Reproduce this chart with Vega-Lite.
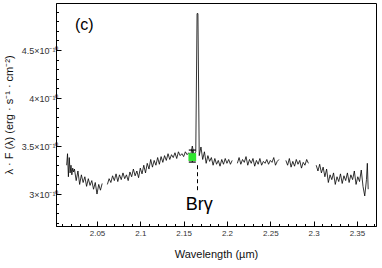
{
  "$schema": "https://vega.github.io/schema/vega-lite/v6.json",
  "width": 320,
  "height": 223,
  "autosize": {"type": "none"},
  "padding": {"left": 56, "top": 3, "right": 6, "bottom": 42},
  "config": {
    "view": {"stroke": "#000", "strokeWidth": 1},
    "font": "Liberation Sans",
    "axis": {"domainColor": "#000", "tickColor": "#000", "labelColor": "#333", "titleColor": "#111", "titleFontWeight": "normal", "grid": false, "labelFont": "Liberation Sans", "titleFont": "Liberation Sans", "labelOverlap": false, "labelBound": false, "labelFlush": false, "tickCount": 200}
  },
  "layer": [
    {
      "data": {"values": [
        {"wl":2.015,"f":3.30,"seg":1},{"wl":2.016,"f":3.42,"seg":1},{"wl":2.017,"f":3.18,"seg":1},{"wl":2.018,"f":3.38,"seg":1},{"wl":2.019,"f":3.22,"seg":1},{"wl":2.020,"f":3.30,"seg":1},{"wl":2.021,"f":3.20,"seg":1},{"wl":2.022,"f":3.27,"seg":1},{"wl":2.023,"f":3.23,"seg":1},{"wl":2.024,"f":3.26,"seg":1},{"wl":2.026,"f":3.14,"seg":1},{"wl":2.028,"f":3.24,"seg":1},{"wl":2.030,"f":3.10,"seg":1},{"wl":2.032,"f":3.20,"seg":1},{"wl":2.034,"f":3.12,"seg":1},{"wl":2.036,"f":3.18,"seg":1},{"wl":2.038,"f":3.08,"seg":1},{"wl":2.040,"f":3.16,"seg":1},{"wl":2.042,"f":3.09,"seg":1},{"wl":2.044,"f":3.14,"seg":1},{"wl":2.046,"f":3.05,"seg":1},{"wl":2.048,"f":3.12,"seg":1},{"wl":2.050,"f":3.00,"seg":1},{"wl":2.052,"f":3.10,"seg":1},{"wl":2.054,"f":3.04,"seg":1},{"wl":2.056,"f":3.11,"seg":1},
        {"wl":2.062,"f":3.10,"seg":2},{"wl":2.064,"f":3.16,"seg":2},{"wl":2.066,"f":3.12,"seg":2},{"wl":2.068,"f":3.19,"seg":2},{"wl":2.070,"f":3.14,"seg":2},{"wl":2.072,"f":3.21,"seg":2},{"wl":2.074,"f":3.13,"seg":2},{"wl":2.076,"f":3.20,"seg":2},{"wl":2.078,"f":3.15,"seg":2},{"wl":2.080,"f":3.22,"seg":2},{"wl":2.082,"f":3.16,"seg":2},{"wl":2.084,"f":3.20,"seg":2},{"wl":2.086,"f":3.14,"seg":2},{"wl":2.088,"f":3.23,"seg":2},{"wl":2.090,"f":3.18,"seg":2},{"wl":2.092,"f":3.26,"seg":2},{"wl":2.094,"f":3.19,"seg":2},{"wl":2.096,"f":3.24,"seg":2},{"wl":2.098,"f":3.17,"seg":2},{"wl":2.100,"f":3.27,"seg":2},{"wl":2.102,"f":3.21,"seg":2},{"wl":2.104,"f":3.30,"seg":2},{"wl":2.106,"f":3.22,"seg":2},{"wl":2.108,"f":3.32,"seg":2},{"wl":2.110,"f":3.26,"seg":2},{"wl":2.112,"f":3.36,"seg":2},{"wl":2.114,"f":3.28,"seg":2},{"wl":2.116,"f":3.35,"seg":2},{"wl":2.118,"f":3.30,"seg":2},{"wl":2.120,"f":3.38,"seg":2},{"wl":2.122,"f":3.31,"seg":2},{"wl":2.124,"f":3.39,"seg":2},{"wl":2.126,"f":3.33,"seg":2},{"wl":2.128,"f":3.40,"seg":2},{"wl":2.130,"f":3.35,"seg":2},{"wl":2.132,"f":3.42,"seg":2},{"wl":2.134,"f":3.36,"seg":2},{"wl":2.136,"f":3.41,"seg":2},{"wl":2.138,"f":3.38,"seg":2},{"wl":2.140,"f":3.43,"seg":2},{"wl":2.142,"f":3.37,"seg":2},{"wl":2.144,"f":3.44,"seg":2},{"wl":2.146,"f":3.40,"seg":2},{"wl":2.148,"f":3.42,"seg":2},{"wl":2.150,"f":3.39,"seg":2},{"wl":2.152,"f":3.44,"seg":2},{"wl":2.154,"f":3.41,"seg":2},{"wl":2.156,"f":3.43,"seg":2},{"wl":2.158,"f":3.40,"seg":2},{"wl":2.160,"f":3.50,"seg":2},{"wl":2.162,"f":3.41,"seg":2},{"wl":2.164,"f":3.44,"seg":2},{"wl":2.1655,"f":4.88,"seg":2},{"wl":2.1665,"f":4.88,"seg":2},{"wl":2.168,"f":3.40,"seg":2},{"wl":2.170,"f":3.49,"seg":2},{"wl":2.172,"f":3.36,"seg":2},{"wl":2.174,"f":3.44,"seg":2},{"wl":2.176,"f":3.32,"seg":2},{"wl":2.178,"f":3.40,"seg":2},{"wl":2.180,"f":3.34,"seg":2},{"wl":2.182,"f":3.38,"seg":2},{"wl":2.184,"f":3.30,"seg":2},{"wl":2.186,"f":3.37,"seg":2},{"wl":2.188,"f":3.31,"seg":2},{"wl":2.190,"f":3.35,"seg":2},{"wl":2.192,"f":3.29,"seg":2},{"wl":2.194,"f":3.36,"seg":2},{"wl":2.196,"f":3.31,"seg":2},{"wl":2.198,"f":3.37,"seg":2},{"wl":2.200,"f":3.32,"seg":2},{"wl":2.202,"f":3.36,"seg":2},{"wl":2.204,"f":3.31,"seg":2},{"wl":2.206,"f":3.35,"seg":2},
        {"wl":2.212,"f":3.32,"seg":3},{"wl":2.214,"f":3.38,"seg":3},{"wl":2.216,"f":3.31,"seg":3},{"wl":2.218,"f":3.36,"seg":3},{"wl":2.220,"f":3.33,"seg":3},{"wl":2.222,"f":3.39,"seg":3},{"wl":2.224,"f":3.30,"seg":3},{"wl":2.226,"f":3.36,"seg":3},{"wl":2.228,"f":3.32,"seg":3},{"wl":2.230,"f":3.37,"seg":3},{"wl":2.232,"f":3.29,"seg":3},{"wl":2.234,"f":3.35,"seg":3},{"wl":2.236,"f":3.31,"seg":3},{"wl":2.238,"f":3.37,"seg":3},{"wl":2.240,"f":3.30,"seg":3},{"wl":2.242,"f":3.34,"seg":3},{"wl":2.244,"f":3.32,"seg":3},{"wl":2.246,"f":3.36,"seg":3},{"wl":2.248,"f":3.31,"seg":3},{"wl":2.250,"f":3.35,"seg":3},{"wl":2.252,"f":3.33,"seg":3},{"wl":2.254,"f":3.38,"seg":3},{"wl":2.256,"f":3.30,"seg":3},{"wl":2.258,"f":3.34,"seg":3},{"wl":2.260,"f":3.36,"seg":3},
        {"wl":2.268,"f":3.35,"seg":4},{"wl":2.270,"f":3.30,"seg":4},{"wl":2.272,"f":3.37,"seg":4},{"wl":2.274,"f":3.28,"seg":4},{"wl":2.276,"f":3.34,"seg":4},{"wl":2.278,"f":3.29,"seg":4},{"wl":2.280,"f":3.36,"seg":4},{"wl":2.282,"f":3.31,"seg":4},{"wl":2.284,"f":3.35,"seg":4},{"wl":2.286,"f":3.27,"seg":4},{"wl":2.288,"f":3.33,"seg":4},{"wl":2.290,"f":3.30,"seg":4},{"wl":2.292,"f":3.36,"seg":4},{"wl":2.294,"f":3.32,"seg":4},
        {"wl":2.303,"f":3.30,"seg":5},{"wl":2.305,"f":3.24,"seg":5},{"wl":2.307,"f":3.31,"seg":5},{"wl":2.309,"f":3.22,"seg":5},{"wl":2.311,"f":3.28,"seg":5},{"wl":2.313,"f":3.18,"seg":5},{"wl":2.315,"f":3.26,"seg":5},{"wl":2.317,"f":3.12,"seg":5},{"wl":2.319,"f":3.20,"seg":5},{"wl":2.321,"f":3.15,"seg":5},{"wl":2.323,"f":3.22,"seg":5},{"wl":2.325,"f":3.10,"seg":5},{"wl":2.327,"f":3.18,"seg":5},{"wl":2.329,"f":3.13,"seg":5},{"wl":2.331,"f":3.21,"seg":5},{"wl":2.333,"f":3.11,"seg":5},{"wl":2.335,"f":3.19,"seg":5},{"wl":2.337,"f":3.14,"seg":5},{"wl":2.339,"f":3.22,"seg":5},{"wl":2.341,"f":3.12,"seg":5},{"wl":2.343,"f":3.20,"seg":5},{"wl":2.345,"f":3.15,"seg":5},{"wl":2.347,"f":3.24,"seg":5},{"wl":2.349,"f":3.10,"seg":5},{"wl":2.351,"f":3.18,"seg":5},{"wl":2.353,"f":3.13,"seg":5},{"wl":2.355,"f":3.25,"seg":5},{"wl":2.357,"f":3.08,"seg":5},{"wl":2.359,"f":2.98,"seg":5},{"wl":2.361,"f":3.15,"seg":5},{"wl":2.362,"f":3.32,"seg":5},{"wl":2.363,"f":3.05,"seg":5}
      ]},
      "mark": {"type": "line", "color": "#000", "strokeWidth": 0.8},
      "encoding": {
        "x": {"field": "wl", "type": "quantitative",
          "scale": {"domain": [2.0027, 2.372], "nice": false, "zero": false},
          "axis": {
            "title": "Wavelength (µm)", "titleFontSize": 11, "titlePadding": 9,
            "values": [2.01,2.02,2.03,2.04,2.05,2.06,2.07,2.08,2.09,2.1,2.11,2.12,2.13,2.14,2.15,2.16,2.17,2.18,2.19,2.2,2.21,2.22,2.23,2.24,2.25,2.26,2.27,2.28,2.29,2.3,2.31,2.32,2.33,2.34,2.35,2.36,2.37],
            "tickCount": 200,
            "format": "~g",
            "labelExpr": "abs(datum.value*20 - round(datum.value*20)) < 0.001 ? datum.label : ''",
            "labelFontSize": 8, "labelPadding": 8,
            "tickSize": {"condition": {"test": "abs(datum.value*20 - round(datum.value*20)) < 0.001", "value": -5}, "value": -2.5},
            "labelFlush": false, "labelOverlap": false
          }},
        "y": {"field": "f", "type": "quantitative",
          "scale": {"domain": [2.667, 4.99], "nice": false, "zero": false},
          "axis": {
            "title": "λ · F (λ) (erg · s⁻¹ · cm⁻²)", "titleFontSize": 11, "titlePadding": 7,
            "values": [2.7,2.8,2.9,3.0,3.1,3.2,3.3,3.4,3.5,3.6,3.7,3.8,3.9,4.0,4.1,4.2,4.3,4.4,4.5,4.6,4.7,4.8,4.9],
            "tickCount": 200,
            "labelExpr": "abs(datum.value*2 - round(datum.value*2)) < 0.001 ? format(datum.value,'~g') + '×10⁻¹⁰' : ''",
            "labelFontSize": 9, "labelPadding": 3,
            "tickSize": {"condition": {"test": "abs(datum.value*2 - round(datum.value*2)) < 0.001", "value": -5}, "value": -2.5},
            "labelFlush": false, "labelOverlap": false
          }},
        "detail": {"field": "seg", "type": "nominal"}
      }
    },
    {
      "data": {"values": [{"wl": 2.166, "top": 3.30, "bot": 3.04}]},
      "mark": {"type": "rule", "color": "#000", "strokeWidth": 1, "strokeDash": [4, 3]},
      "encoding": {"x": {"field": "wl", "type": "quantitative"}, "y": {"field": "top", "type": "quantitative"}, "y2": {"field": "bot"}}
    },
    {
      "data": {"values": [{"wl": 2.160, "lo": 3.333, "hi": 3.458}]},
      "mark": {"type": "rule", "color": "#000", "strokeWidth": 1},
      "encoding": {"x": {"field": "wl", "type": "quantitative"}, "y": {"field": "lo", "type": "quantitative"}, "y2": {"field": "hi"}}
    },
    {
      "data": {"values": [{"wl": 2.160, "v": 3.333}, {"wl": 2.160, "v": 3.458}]},
      "mark": {"type": "tick", "color": "#000", "orient": "horizontal", "size": 7, "thickness": 1.2, "opacity": 1},
      "encoding": {"x": {"field": "wl", "type": "quantitative"}, "y": {"field": "v", "type": "quantitative"}}
    },
    {
      "data": {"values": [{"wl": 2.160, "v": 3.385}]},
      "mark": {"type": "square", "color": "#2ee62e", "filled": true, "opacity": 1, "size": 60},
      "encoding": {"x": {"field": "wl", "type": "quantitative"}, "y": {"field": "v", "type": "quantitative"}}
    },
    {
      "data": {"values": [{"wl": 2.168, "v": 2.833, "t": "Brγ"}]},
      "mark": {"type": "text", "fontSize": 18, "align": "center", "baseline": "alphabetic", "color": "#000"},
      "encoding": {"x": {"field": "wl", "type": "quantitative"}, "y": {"field": "v", "type": "quantitative"}, "text": {"field": "t"}}
    },
    {
      "data": {"values": [{"wl": 2.0245, "v": 4.71, "t": "(c)"}]},
      "mark": {"type": "text", "fontSize": 16, "align": "left", "baseline": "alphabetic", "color": "#000"},
      "encoding": {"x": {"field": "wl", "type": "quantitative"}, "y": {"field": "v", "type": "quantitative"}, "text": {"field": "t"}}
    }
  ]
}
